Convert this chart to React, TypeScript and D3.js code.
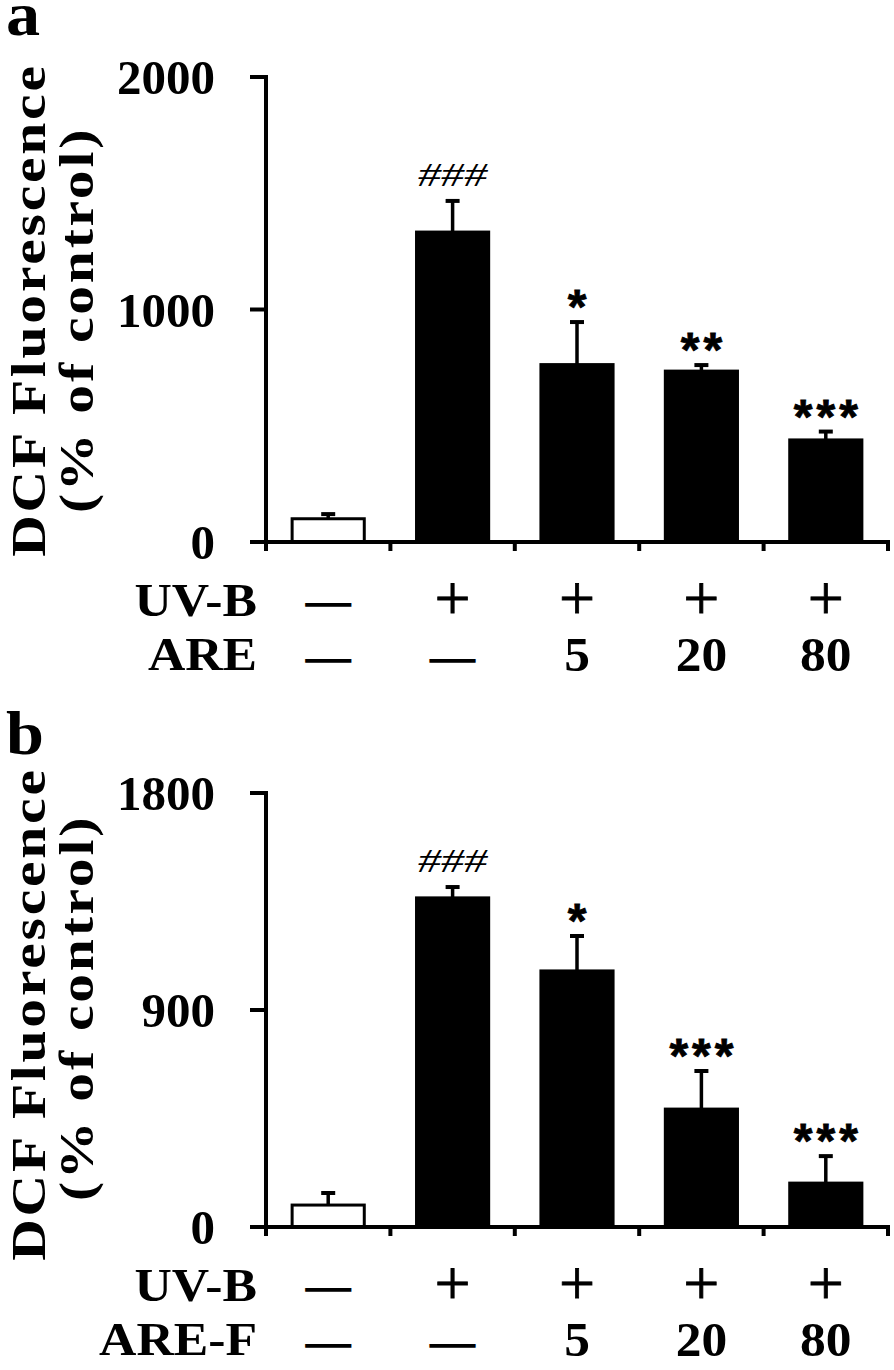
import React from 'react';
import * as d3 from 'd3';

const groups = ['g1', 'g2', 'g3', 'g4', 'g5'];
const uvbLabels = ['—', '+', '+', '+', '+'];
const areLabelsA = ['—', '—', '5', '20', '80'];
const areLabelsB = ['—', '—', '5', '20', '80'];

const valuesA = [100, 1333, 763, 735, 439];
const errorsA = [20, 134, 183, 26, 36];
const sigA = ['', '###', '*', '**', '***'];
const ticksA = [0, 1000, 2000];

const valuesB = [91, 1365, 1062, 489, 182];
const errorsB = [50, 45, 145, 158, 112];
const sigB = ['', '###', '*', '***', '***'];
const ticksB = [0, 900, 1800];

const SERIF = '"Liberation Serif", "Times New Roman", serif';
const SANS = '"Liberation Sans", Arial, sans-serif';

type PanelProps = {
  letter: string;
  letterY: number;
  values: number[];
  errors: number[];
  sig: string[];
  ticks: number[];
  yMax: number;
  rowLabel2: string;
  rowValues2: string[];
  yTopPx: number;
  yBasePx: number;
  title1Y: number;
  title2Y: number;
};

const AXIS_X = 266;
const AXIS_END = 888;

function Panel(p: PanelProps) {
  const x = d3.scaleBand<string>().domain(groups).range([AXIS_X, AXIS_END]).paddingInner(0.42).paddingOuter(0.21);
  const y = d3.scaleLinear().domain([0, p.yMax]).range([p.yBasePx, p.yTopPx]);
  const step = x.step();
  const boundaries = groups.map((_, i) => AXIS_X + step * (i + 1));
  const base = p.yBasePx;
  const row1 = base + 74;
  const row2 = base + 128;
  const cxOf = (i: number) => (x(groups[i]) as number) + x.bandwidth() / 2;
  return (
    <g>
      <text transform={`translate(6,${p.letterY}) scale(1.1,1)`} fontFamily={SERIF} fontWeight="bold" fontSize={62}>{p.letter}</text>
      {/* y title */}
      <text transform={`translate(45,${p.title1Y}) rotate(-90) scale(1.2,1)`} textAnchor="middle" fontFamily={SERIF} fontWeight="bold" fontSize={48} letterSpacing={2.3}>DCF Fluorescence</text>
      <text transform={`translate(93,${p.title2Y}) rotate(-90) scale(1.2,1)`} textAnchor="middle" fontFamily={SERIF} fontWeight="bold" fontSize={48} letterSpacing={2.3}>(% of control)</text>
      {/* bars */}
      {p.values.map((v, i) => (
        <rect key={'b' + i} x={x(groups[i])} y={y(v)} width={x.bandwidth()} height={base - y(v)}
          fill={i === 0 ? '#fff' : '#000'} stroke="#000" strokeWidth={3} />
      ))}
      {/* error bars */}
      {p.values.map((v, i) => {
        const cx = cxOf(i);
        const top = y(v + p.errors[i]);
        return (
          <g key={'e' + i}>
            <line x1={cx} x2={cx} y1={y(v)} y2={top} stroke="#000" strokeWidth={3.5} />
            <line x1={cx - 7} x2={cx + 7} y1={top} y2={top} stroke="#000" strokeWidth={4} />
          </g>
        );
      })}
      {/* significance */}
      {p.sig.map((s, i) => {
        if (!s) return null;
        const cx = cxOf(i);
        const yy = y(p.values[i] + p.errors[i]);
        if (s.startsWith('#')) {
          return <text key={'s' + i} transform={`translate(${cx},${yy - 15}) scale(1.1,0.8)`} textAnchor="middle" fontFamily={SERIF} fontStyle="italic" fontSize={42}>{s}</text>;
        }
        return <text key={'s' + i} x={cx + 2} y={yy + 1} textAnchor="middle" fontFamily={SANS} fontWeight="bold" fontSize={48} letterSpacing={4} stroke="#000" strokeWidth={0.8}>{s}</text>;
      })}
      {/* y axis */}
      <line x1={AXIS_X} x2={AXIS_X} y1={p.yTopPx - 2} y2={base} stroke="#000" strokeWidth={4} />
      {p.ticks.map((t, i) => (
        <g key={'t' + i}>
          <line x1={250} x2={AXIS_X} y1={y(t)} y2={y(t)} stroke="#000" strokeWidth={4} />
          <text x={215} y={y(t) + 17} textAnchor="end" fontFamily={SERIF} fontWeight="bold" fontSize={49}>{t}</text>
        </g>
      ))}
      {/* x axis */}
      <line x1={AXIS_X - 2} x2={AXIS_END + 2} y1={base} y2={base} stroke="#000" strokeWidth={4} />
      {boundaries.map((b, i) => (
        <line key={'xt' + i} x1={b} x2={b} y1={base} y2={base + 9} stroke="#000" strokeWidth={4} />
      ))}
      <line x1={AXIS_X} x2={AXIS_X} y1={base} y2={base + 9} stroke="#000" strokeWidth={4} />
      {/* row labels */}
      <text transform={`translate(257,${row1}) scale(1.1,1)`} textAnchor="end" fontFamily={SERIF} fontWeight="bold" fontSize={47}>UV-B</text>
      <text transform={`translate(257,${row2}) scale(1.1,1)`} textAnchor="end" fontFamily={SERIF} fontWeight="bold" fontSize={47}>{p.rowLabel2}</text>
      {uvbLabels.map((l, i) => {
        const cx = cxOf(i);
        if (l === '—') {
          return <text key={'u' + i} x={cx} y={row1 - 1} textAnchor="middle" fontFamily={SERIF} fontSize={44} stroke="#000" strokeWidth={1.6}>{l}</text>;
        }
        return <text key={'u' + i} x={cx} y={row1 + 4} textAnchor="middle" fontFamily={SERIF} fontSize={64} stroke="#000" strokeWidth={0.8}>{l}</text>;
      })}
      {p.rowValues2.map((l, i) => {
        const cx = cxOf(i);
        if (l === '—') {
          return <text key={'a' + i} x={cx} y={row2 + 1} textAnchor="middle" fontFamily={SERIF} fontSize={44} stroke="#000" strokeWidth={1.6}>{l}</text>;
        }
        return <text key={'a' + i} transform={`translate(${cx},${row2 + 1}) scale(1.05,1)`} textAnchor="middle" fontFamily={SERIF} fontWeight="bold" fontSize={49}>{l}</text>;
      })}
    </g>
  );
}

export default function App() {
  return (
    <svg width={894} height={1370} style={{ position: 'absolute', left: 0, top: 0, background: '#fff' }}>
      <rect width={894} height={1370} fill="#fff" />
      <Panel letter="a" letterY={35} values={valuesA} errors={errorsA} sig={sigA} ticks={ticksA} yMax={2000}
        rowLabel2="ARE" rowValues2={areLabelsA} yTopPx={77} yBasePx={542} title1Y={310} title2Y={320} />
      <Panel letter="b" letterY={754} values={valuesB} errors={errorsB} sig={sigB} ticks={ticksB} yMax={1800}
        rowLabel2="ARE-F" rowValues2={areLabelsB} yTopPx={793} yBasePx={1227} title1Y={1014} title2Y={1008} />
    </svg>
  );
}
